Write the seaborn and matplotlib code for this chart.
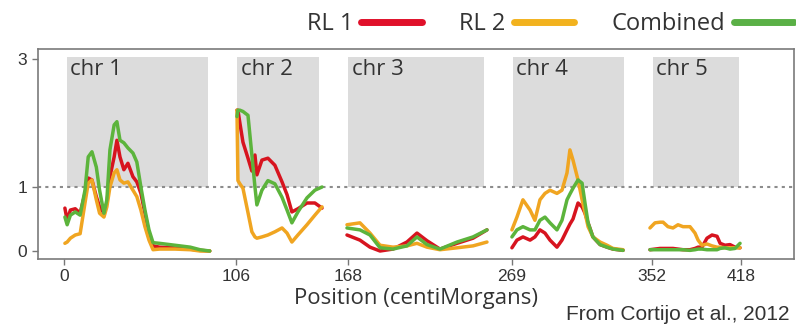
import pandas as pd
import seaborn as sns
import matplotlib.pyplot as plt
from matplotlib.lines import Line2D

# chromosome blocks (plot position in cM, small gaps between chromosomes)
chroms = ["chr 1", "chr 2", "chr 3", "chr 4", "chr 5"]
block_start = [2, 107, 175.5, 277, 363.5]
block_end = [89, 157.5, 259.5, 345.5, 416.5]

tick_pos = [0, 106, 175.3, 276.5, 363, 418]
tick_labels = ["0", "106", "168", "269", "352", "418"]

series = ["RL 1", "RL 2", "Combined"]
colors = ["#d7141f", "#f0a521", "#5cb43c"]

# LOD-like scores
chr1_x = [0.6, 2, 4, 7, 10, 13, 15, 17.3, 20, 22, 24.7, 26.5, 28.4, 31, 32.7, 34.6, 37, 39.5,
          42.6, 45, 47.5, 50, 52.5, 55, 59, 68.5, 78, 84, 90]
chr1_rl1 = [0.67, 0.48, 0.64, 0.66, 0.59, 0.90, 1.14, 1.11, 0.85, 0.69, 0.59, 0.75, 1.16, 1.47,
            1.73, 1.47, 1.27, 1.37, 1.16, 1.08, 0.90, 0.59, 0.28, 0.08, 0.06, 0.05, 0.03, 0.01, 0.0]
chr1_rl2 = [0.12, 0.14, 0.20, 0.25, 0.27, 0.75, 1.06, 1.11, 0.80, 0.59, 0.53, 0.69, 1.00, 1.22,
            1.27, 1.11, 1.06, 1.08, 0.95, 0.85, 0.64, 0.38, 0.17, 0.02, 0.03, 0.03, 0.02, 0.0, 0.0]
chr1_comb = [0.53, 0.41, 0.56, 0.61, 0.56, 0.95, 1.47, 1.55, 1.31, 0.95, 0.59, 0.80, 1.58, 1.97,
             2.02, 1.73, 1.69, 1.61, 1.53, 1.39, 1.00, 0.64, 0.33, 0.13, 0.12, 0.09, 0.06, 0.02, 0.0]

chr2_x = [106.8, 107.4, 108.6, 110.5, 113.6, 116.0, 117.9, 119.1, 122.2, 125.9, 130.2, 134.6,
          137.7, 140.7, 144.4, 150.0, 154.9, 159.3]
chr2_rl1 = [2.2, 2.2, 2.0, 1.7, 1.45, 1.25, 1.5, 1.19, 1.42, 1.45, 1.34, 1.08, 0.88, 0.61, 0.66,
            0.75, 0.75, 0.67]
chr2_rl2 = [2.2, 1.1, 1.05, 0.98, 0.6, 0.3, 0.22, 0.2, 0.22, 0.25, 0.3, 0.36, 0.28, 0.14, 0.25,
            0.41, 0.56, 0.69]
chr2_comb = [2.1, 2.2, 2.2, 2.18, 2.12, 1.5, 1.0, 0.72, 0.95, 1.1, 1.05, 0.84, 0.64, 0.44, 0.61,
             0.83, 0.95, 1.0]

chr3_x = [174.7, 182.7, 188.9, 195.1, 203.1, 211.7, 217.9, 224.1, 232.1, 242.6, 252.5, 261.1]
chr3_rl1 = [0.25, 0.17, 0.06, 0.0, 0.03, 0.14, 0.28, 0.16, 0.03, 0.12, 0.20, 0.33]
chr3_rl2 = [0.41, 0.44, 0.28, 0.09, 0.06, 0.08, 0.12, 0.06, 0.02, 0.05, 0.08, 0.14]
chr3_comb = [0.36, 0.33, 0.25, 0.05, 0.03, 0.08, 0.22, 0.10, 0.03, 0.14, 0.22, 0.33]

chr4_x = [276.5, 279.6, 283.3, 287.7, 290.7, 293.8, 296.9, 300.0, 304.3, 307.4, 310.5, 312.3,
          314.2, 317.3, 319.8, 321.6, 323.5, 326.5, 330.9, 335.2, 338.9, 345.1]
chr4_rl1 = [0.05, 0.17, 0.22, 0.17, 0.22, 0.33, 0.28, 0.17, 0.06, 0.17, 0.33, 0.42, 0.50, 0.75,
            0.69, 0.59, 0.44, 0.22, 0.10, 0.06, 0.03, 0.01]
chr4_rl2 = [0.33, 0.53, 0.80, 0.64, 0.48, 0.80, 0.90, 0.95, 0.90, 0.95, 1.22, 1.58, 1.42, 1.11,
            0.80, 0.60, 0.38, 0.22, 0.14, 0.09, 0.04, 0.02]
chr4_comb = [0.22, 0.33, 0.38, 0.33, 0.33, 0.48, 0.53, 0.44, 0.33, 0.48, 0.80, 0.89, 0.98, 1.11,
             1.06, 0.75, 0.44, 0.22, 0.10, 0.06, 0.03, 0.01]

chr5_x = [361.7, 364.8, 367.9, 369.8, 372.8, 375.9, 379.0, 382.1, 386.4, 389.5, 391.4, 393.8,
          396.9, 400.0, 403.1, 405.0, 408.0, 411.1, 414.2, 417.3]
chr5_rl1 = [0.02, 0.03, 0.04, 0.04, 0.04, 0.04, 0.03, 0.02, 0.02, 0.04, 0.06, 0.06, 0.20, 0.25,
            0.23, 0.12, 0.09, 0.10, 0.06, 0.05]
chr5_rl2 = [0.36, 0.44, 0.45, 0.45, 0.38, 0.36, 0.41, 0.38, 0.38, 0.28, 0.17, 0.09, 0.11, 0.08,
            0.06, 0.06, 0.05, 0.05, 0.05, 0.05]
chr5_comb = [0.02, 0.02, 0.02, 0.02, 0.02, 0.02, 0.02, 0.02, 0.01, 0.02, 0.03, 0.03, 0.02, 0.02,
             0.02, 0.04, 0.05, 0.03, 0.04, 0.12]

chrom_data = [
    ("chr 1", chr1_x, chr1_rl1, chr1_rl2, chr1_comb),
    ("chr 2", chr2_x, chr2_rl1, chr2_rl2, chr2_comb),
    ("chr 3", chr3_x, chr3_rl1, chr3_rl2, chr3_comb),
    ("chr 4", chr4_x, chr4_rl1, chr4_rl2, chr4_comb),
    ("chr 5", chr5_x, chr5_rl1, chr5_rl2, chr5_comb),
]

rows = []
for name, xs, r1, r2, cb in chrom_data:
    for s, ys in zip(series, (r1, r2, cb)):
        for x, y in zip(xs, ys):
            rows.append((name, s, x, y))
df = pd.DataFrame(rows, columns=["chrom", "series", "pos", "lod"])

sns.set_style("white")
plt.rcParams["font.family"] = ["Open Sans", "DejaVu Sans"]
text_col = "#333333"

fig = plt.figure(figsize=(7.96, 3.27), dpi=100)
ax = fig.add_axes([38 / 796, 1 - 259 / 327, (794 - 38) / 796, (259 - 49) / 327])

# grey chromosome blocks above the threshold
for name, x0, x1 in zip(chroms, block_start, block_end):
    ax.fill_between([x0, x1], 1, 3.03, color="#dcdcdc", lw=0, zorder=0)
    ax.text(x0 + 2, 3.0, name, ha="left", va="top", fontsize=16, color=text_col, zorder=1)

ax.axhline(1, color="#8c8c8c", lw=1.5, ls=(0, (1.5, 2)), zorder=1)

sns.lineplot(data=df, x="pos", y="lod", hue="series", hue_order=series, palette=colors,
             units="chrom", estimator=None, sort=False, lw=2.5, legend=False, ax=ax, zorder=3,
             solid_joinstyle="round", solid_capstyle="round")

ax.set_xlim(-16, 450.6)
ax.set_ylim(-0.125, 3.156)
ax.set_yticks([0, 1, 3])
ax.set_yticklabels(["0", "1", "3"])
ax.set_xticks(tick_pos)
ax.set_xticklabels(tick_labels)
ax.tick_params(axis="both", length=4, width=1, color="#777777", labelsize=12.5,
               labelcolor=text_col, pad=3)
ax.tick_params(axis="y", pad=4)
for lab in ax.get_xticklabels() + ax.get_yticklabels():
    lab.set_fontfamily("Liberation Sans")
ax.tick_params(left=True, bottom=True)
for sp in ax.spines.values():
    sp.set_color("#7a7a7a")
    sp.set_linewidth(1.2)

ax.set_xlabel("Position (centiMorgans)", fontsize=16, color=text_col, labelpad=3)
ax.set_ylabel("")

handles = [Line2D([], [], color=c, lw=5) for c in ["#e0102a", "#f2b21e", "#5ab046"]]
fig.legend(handles, series, loc="center right", bbox_to_anchor=(794 / 796, 1 - 24 / 327),
           ncol=3, frameon=False, markerfirst=False, fontsize=17, handlelength=2.55,
           handletextpad=0.35, columnspacing=1.6, borderaxespad=0, borderpad=0,
           labelcolor=text_col)

fig.text(790 / 796, 1 - 315 / 327, "From Cortijo et al., 2012", ha="right", va="center",
         fontsize=15, color=text_col, fontfamily="Liberation Sans")

fig.savefig("out.png", dpi=100)
